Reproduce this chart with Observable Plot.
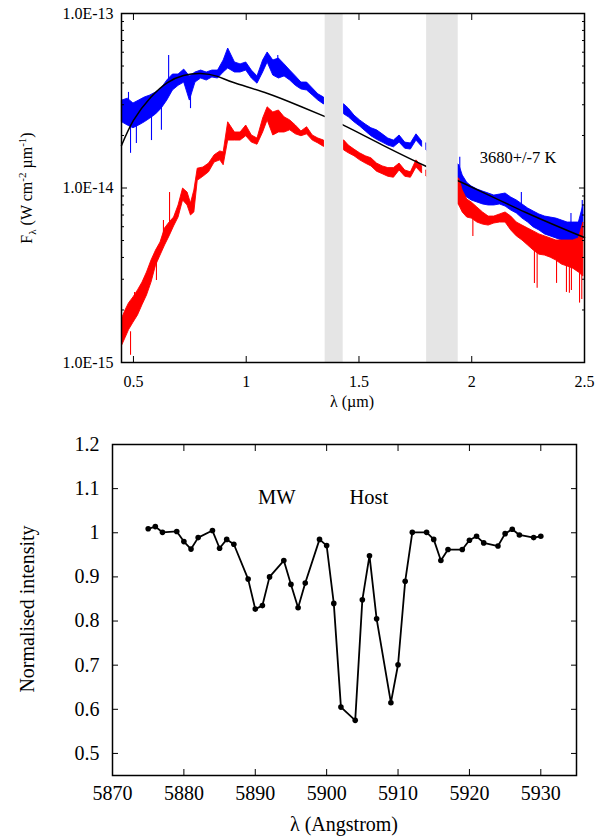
<!DOCTYPE html>
<html><head><meta charset="utf-8">
<script src="https://cdn.jsdelivr.net/npm/d3@7"></script>
<script src="https://cdn.jsdelivr.net/npm/@observablehq/plot@0.6"></script>
<style>
body{margin:0;background:#fff;}
#c{width:597px;}
#c svg{display:block;}
</style></head><body><div id="c"></div>
<script>
// ---------- TOP PANEL DATA (flux in units of 1e-15 W cm^-2 um^-1) ----------
const UNIT = 1e-15;
const masked = [[1.35, 1.43], [1.80, 1.94]];          // telluric bands (um)

const blueWave = [0.450,0.475,0.500,0.525,0.550,0.575,0.600,0.625,0.650,0.675,0.700,0.725,0.750,0.775,0.800,0.825,0.850,0.875,0.900,0.920,0.950,0.975,1.000,1.025,1.050,1.075,1.095,1.120,1.145,1.170,1.195,1.220,1.245,1.270,1.295,1.320,1.345,
  1.435,1.455,1.480,1.505,1.530,1.555,1.580,1.605,1.630,1.655,1.680,1.705,1.730,1.755,1.780,1.800,
  1.945,1.960,1.980,2.000,2.025,2.050,2.075,2.100,2.125,2.150,2.175,2.200,2.225,2.250,2.275,2.300,2.325,2.350,2.375,2.400,2.425,2.450,2.475,2.495];
const blueHi = [31.7,32.5,30.5,31.7,33.0,33.9,35.3,37.2,41.3,44.7,44.7,47.7,43.6,45.9,47.1,45.9,47.1,47.1,53.8,63.0,52.4,51.1,52.4,47.1,43.6,53.8,59.8,53.8,55.2,51.1,47.1,43.6,40.2,40.2,37.2,34.4,33.0,
  30.1,28.5,26.0,24.4,23.1,22.0,21.4,20.3,19.2,18.7,20.0,18.2,18.0,20.3,18.5,18.0,
  13.5,11.8,10.7,10.2,9.80,9.54,9.30,9.05,9.17,9.30,8.82,8.48,8.05,7.63,7.33,7.05,6.86,6.77,6.68,6.51,6.34,6.34,6.34,7.94];
const blueLo = [23.8,22.8,22.0,22.8,23.8,25.0,26.4,28.5,31.7,36.2,38.5,40.2,31.7,40.2,42.4,41.3,43.0,42.4,45.9,48.4,45.9,45.9,47.1,42.4,39.6,45.9,52.4,44.1,42.4,43.6,41.3,38.5,36.7,36.2,33.9,31.7,30.1,
  26.4,25.4,23.8,22.5,21.1,19.8,18.9,18.2,17.5,17.1,18.2,16.8,16.6,18.7,17.2,16.4,
  9.67,9.05,8.82,8.48,8.26,8.05,7.94,7.94,8.05,7.83,7.43,7.14,6.68,6.34,5.94,5.71,5.42,5.28,5.14,5.00,4.87,4.68,4.62,5.14];

const redWave = [0.450,0.465,0.480,0.500,0.520,0.540,0.560,0.580,0.600,0.620,0.640,0.660,0.680,0.700,0.720,0.740,0.755,0.770,0.785,0.810,0.835,0.860,0.885,0.900,0.920,0.950,0.975,1.000,1.025,1.050,1.075,1.095,1.120,1.145,1.170,1.195,1.220,1.245,1.270,1.295,1.320,1.345,
  1.435,1.455,1.480,1.505,1.530,1.555,1.580,1.605,1.630,1.655,1.680,1.705,1.730,1.755,1.780,1.800,
  1.945,1.960,1.980,2.000,2.025,2.050,2.075,2.100,2.125,2.150,2.175,2.200,2.225,2.250,2.275,2.300,2.325,2.350,2.375,2.400,2.425,2.450,2.475,2.495];
const redHi = [1.79,1.99,2.18,2.36,2.59,2.87,3.28,3.84,4.38,4.87,5.86,6.34,6.77,7.94,9.93,9.42,8.15,9.67,12.9,13.1,13.8,15.4,16.2,16.0,23.8,20.8,20.8,22.8,20.0,19.2,25.0,29.0,27.1,27.8,25.4,24.4,22.8,21.1,22.3,20.0,19.2,18.7,
  18.7,17.5,16.6,15.8,15.2,14.8,13.8,13.3,13.0,13.0,13.8,12.6,12.3,14.4,13.3,12.6,
  11.3,9.67,8.59,8.26,7.73,7.24,6.86,6.86,7.05,7.24,6.86,6.34,6.09,5.86,5.64,5.42,5.28,5.14,5.00,5.00,5.00,5.00,5.14,6.34];
const redLo = [1.25,1.38,1.53,1.69,1.86,2.13,2.42,2.87,3.59,4.10,4.68,5.28,6.02,6.77,8.48,7.94,6.96,7.24,11.0,11.6,12.3,14.0,14.4,13.5,18.7,18.7,18.7,19.8,18.2,17.7,20.8,24.4,20.0,20.8,20.8,21.4,20.3,19.8,20.3,18.7,18.0,17.2,
  16.4,15.8,15.2,14.4,13.8,13.3,12.4,12.0,11.6,11.45,12.6,11.6,11.45,13.1,12.1,11.6,
  7.94,7.24,6.77,6.68,6.34,6.17,6.09,6.26,6.34,6.34,5.71,5.28,5.00,4.68,4.38,4.15,4.10,3.99,3.84,3.64,3.55,3.45,3.28,3.11];

// narrow noise spikes
const blueSpikeWave = [0.478,0.487,0.513,0.580,0.624,0.656,0.753,1.140,1.947,2.220,2.440,2.490];
const blueSpikeBase = [30,26,25,27,30,38,36,50,11,8,5.5,6.5];
const blueSpikeTip  = [35.3,15.8,18.0,18.7,21.4,57.5,28.5,57.5,15.0,9.42,7.14,8.48];
const redSpikeWave = [0.487,0.505,0.602,0.633,0.660,2.005,2.278,2.290,2.376,2.420,2.433,2.442,2.478,2.488];
const redSpikeBase = [1.5,2.0,3.9,5.0,5.8,7.0,5.0,5.0,4.5,4.3,4.3,4.3,4.0,4.0];
const redSpikeTip  = [1.10,2.52,2.95,6.51,9.42,5.28,2.84,2.66,2.84,2.52,2.49,2.59,2.19,2.30];

// blackbody fit
const bbWave = [0.447,0.500,0.576,0.651,0.722,0.798,0.873,0.944,1.095,1.242,1.358,1.444,1.609,1.809,1.956,2.240,2.500];
const bbFlux = [17.5,24.4,33.0,40.2,44.1,45.3,43.6,40.2,34.8,29.3,25.4,22.5,17.5,13.1,10.75,7.24,5.20];

const topXTicks = [0.5, 1, 1.5, 2, 2.5];
const topYMajor = [1e-15, 1e-14, 1e-13];
const topYMinor = [2,3,4,5,6,7,8,9].flatMap(m => [m * 1e-15, m * 1e-14]);
const tempLabel = [{w: 2.205, f: 14.9, text: "3680+/-7 K"}];

// ---------- BOTTOM PANEL DATA ----------
const naWave = [5875,5876,5877,5879,5880,5881,5882,5884,5885,5886,5887,5889,5890,5891,5892,5894,5895,5896,5897,5899,5900,5901,5902,5904,5905,5906,5907,5909,5910,5911,5912,5914,5915,5916,5917,5919,5920,5921,5922,5924,5925,5926,5927,5929,5930];
const naInt  = [1.009,1.014,1.001,1.003,0.980,0.963,0.989,1.005,0.965,0.985,0.974,0.895,0.827,0.835,0.900,0.937,0.883,0.830,0.886,0.985,0.971,0.840,0.605,0.575,0.848,0.948,0.805,0.615,0.701,0.890,1.001,1.001,0.985,0.937,0.962,0.962,0.983,0.992,0.977,0.970,0.998,1.008,0.995,0.989,0.992];
const botXTicks = [5870,5880,5890,5900,5910,5920,5930];
const botYTicks = [0.5,0.6,0.7,0.8,0.9,1.0,1.1,1.2];
const lineLabels = [{w: 5893, v: 1.079, text: "MW"}, {w: 5905.9, v: 1.079, text: "Host"}];

// ---------- build tables ----------
const seg = w => w < masked[0][0] ? 0 : w < masked[1][0] ? 1 : 2;
const mkSeries = (W, H, L) => W.map((w, i) => ({w, hi: H[i] * UNIT, lo: L[i] * UNIT, seg: seg(w)}));
const blue = mkSeries(blueWave, blueHi, blueLo);
const red = mkSeries(redWave, redHi, redLo);
const mkSpikes = (W, B, T) => W.map((w, i) => ({w, base: B[i] * UNIT, tip: T[i] * UNIT}));
const blueSpikes = mkSpikes(blueSpikeWave, blueSpikeBase, blueSpikeTip);
const redSpikes = mkSpikes(redSpikeWave, redSpikeBase, redSpikeTip);
const bb = bbWave.map((w, i) => ({w, f: bbFlux[i] * UNIT}));
const bands = masked.map(([a, b]) => ({a, b}));
const temp = tempLabel.map(d => ({...d, f: d.f * UNIT}));
const na = naWave.map((w, i) => ({w, v: naInt[i]}));

const FONT = "'Liberation Serif', 'Times New Roman', serif";
const BLUE = "#0000ff", RED = "#ff0000";
const empty = () => "";
const fmtE = d => d.toExponential(1).toUpperCase();

const topChart = Plot.plot({
  width: 597, height: 415,
  marginLeft: 121, marginRight: 13, marginTop: 13, marginBottom: 53,
  style: {fontFamily: FONT, fontSize: "16px", background: "white", color: "black"},
  x: {domain: [0.447, 2.5]},
  y: {type: "log", domain: [1e-15, 1e-13]},
  marks: [
    Plot.areaY(blue, {x: "w", y1: "lo", y2: "hi", z: "seg", fill: BLUE, stroke: BLUE, strokeWidth: 0.9}),
    Plot.ruleX(blueSpikes, {x: "w", y1: "base", y2: "tip", stroke: BLUE, strokeWidth: 1.1}),
    Plot.areaY(red, {x: "w", y1: "lo", y2: "hi", z: "seg", fill: RED, stroke: RED, strokeWidth: 0.9}),
    Plot.ruleX(redSpikes, {x: "w", y1: "base", y2: "tip", stroke: RED, strokeWidth: 1.1}),
    Plot.line(bb, {x: "w", y: "f", curve: "natural", stroke: "black", strokeWidth: 1.5}),
    Plot.rect(bands, {x1: "a", x2: "b", fill: "#e5e5e5"}),
    Plot.text(temp, {x: "w", y: "f", text: "text", fontSize: 16.5}),
    Plot.axisX({ticks: topXTicks, anchor: "bottom", tickSize: -6, tickPadding: 19, tickFormat: d => String(d), label: null}),
    Plot.axisX({ticks: topXTicks, anchor: "top", tickSize: -6, tickFormat: empty, label: null}),
    Plot.axisY({ticks: topYMajor, anchor: "left", tickSize: -6, tickPadding: 14, tickFormat: fmtE, label: null}),
    Plot.axisY({ticks: topYMajor, anchor: "right", tickSize: -6, tickFormat: empty, label: null}),
    Plot.axisY({ticks: topYMinor, anchor: "left", tickSize: -3, tickFormat: empty, label: null}),
    Plot.axisY({ticks: topYMinor, anchor: "right", tickSize: -3, tickFormat: empty, label: null}),
    Plot.frame({stroke: "black", strokeWidth: 1.5})
  ]
});

const bottomChart = Plot.plot({
  width: 597, height: 424,
  marginLeft: 112, marginRight: 21, marginTop: 29, marginBottom: 64,
  style: {fontFamily: FONT, fontSize: "20px", background: "white", color: "black"},
  x: {domain: [5870, 5935]},
  y: {domain: [0.45, 1.2]},
  marks: [
    Plot.line(na, {x: "w", y: "v", stroke: "black", strokeWidth: 1.8}),
    Plot.dot(na, {x: "w", y: "v", r: 2.8, fill: "black"}),
    Plot.text(lineLabels, {x: "w", y: "v", text: "text", fontSize: 20.5}),
    Plot.axisX({ticks: botXTicks, anchor: "bottom", tickSize: -6, tickPadding: 16, tickFormat: d => String(d), label: null}),
    Plot.axisX({ticks: botXTicks, anchor: "top", tickSize: -6, tickFormat: empty, label: null}),
    Plot.axisY({ticks: botYTicks, anchor: "left", tickSize: -6, tickPadding: 19, tickFormat: d => String(+d.toFixed(1)), label: null}),
    Plot.axisY({ticks: botYTicks, anchor: "right", tickSize: -6, tickFormat: empty, label: null}),
    Plot.frame({stroke: "black", strokeWidth: 1.5})
  ]
});

// axis titles (with sub/superscripts)
const st = d3.select(topChart);
const yl = st.append("text").attr("transform", "translate(32,188) rotate(-90)")
  .attr("text-anchor", "middle").attr("fill", "black").style("font-size", "16px").style("font-family", FONT);
yl.append("tspan").text("F");
yl.append("tspan").attr("dy", 4).style("font-size", "11px").text("λ");
yl.append("tspan").attr("dy", -4).text(" (W cm");
yl.append("tspan").attr("dy", -6).style("font-size", "11px").text("-2");
yl.append("tspan").attr("dy", 6).text(" µm");
yl.append("tspan").attr("dy", -6).style("font-size", "11px").text("-1");
yl.append("tspan").attr("dy", 6).text(")");
st.append("text").attr("x", 352).attr("y", 407).attr("text-anchor", "middle").attr("fill", "black")
  .style("font-size", "16px").style("font-family", FONT).text("λ (µm)");

const sb = d3.select(bottomChart);
sb.append("text").attr("transform", "translate(34,194) rotate(-90)").attr("text-anchor", "middle").attr("fill", "black")
  .style("font-size", "20px").style("font-family", FONT).text("Normalised intensity");
sb.append("text").attr("x", 344).attr("y", 416).attr("text-anchor", "middle").attr("fill", "black")
  .style("font-size", "20px").style("font-family", FONT).text("λ (Angstrom)");

document.getElementById("c").append(topChart, bottomChart);
</script>
</body></html>
